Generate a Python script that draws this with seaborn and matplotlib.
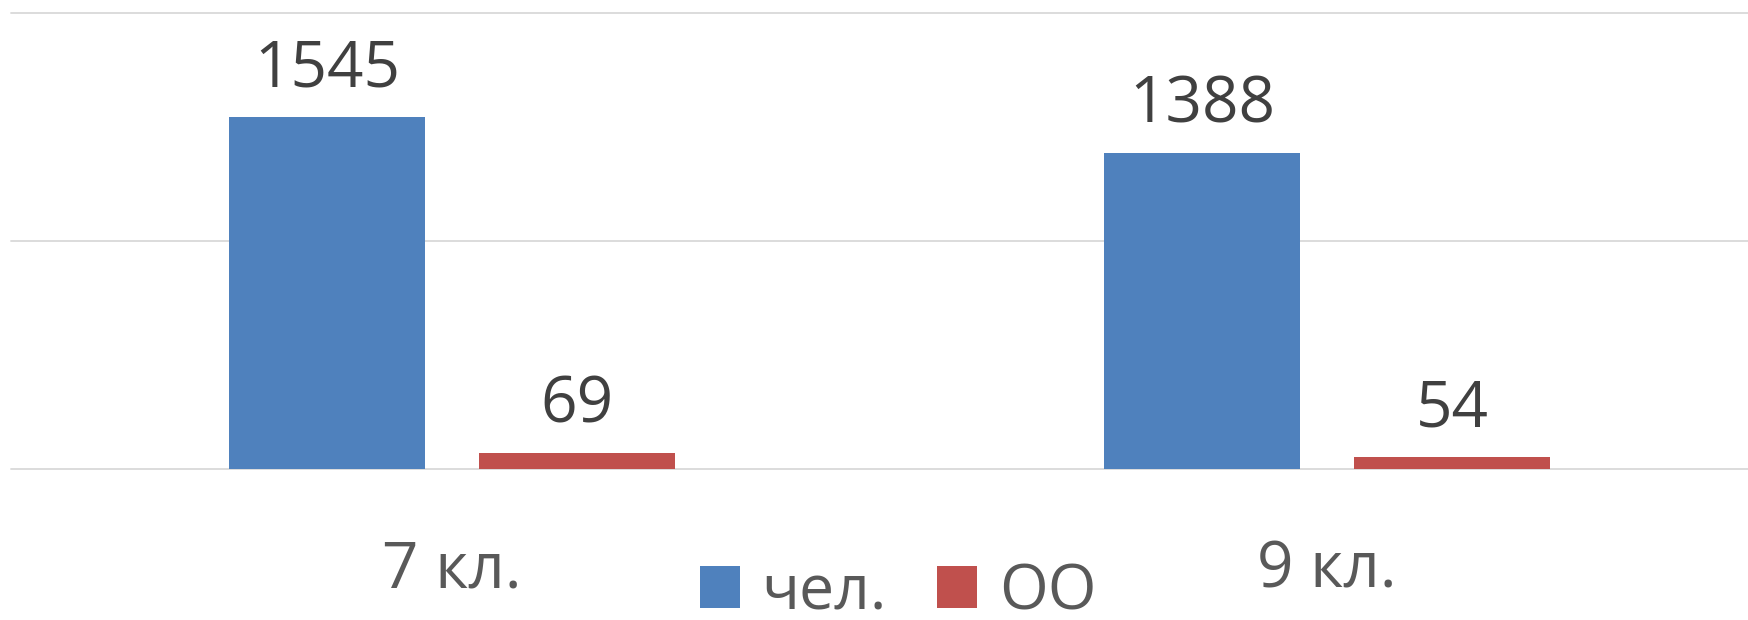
import pandas as pd
import matplotlib
matplotlib.use("Agg")
import matplotlib.pyplot as plt
import seaborn as sns

# data
classes = ["7 кл.", "9 кл."]
series = ["чел.", "ОО"]
people = [1545, 1388]
schools = [69, 54]
colors = ["#4F81BD", "#C0504D"]

sns.set_theme(style="white")
plt.rcParams["font.family"] = ["Open Sans", "DejaVu Sans"]

df = pd.DataFrame({
    "class": classes * 2,
    "series": [series[0]] * len(classes) + [series[1]] * len(classes),
    "value": people + schools,
})

W, H = 1749, 620
fig = plt.figure(figsize=(W / 100, H / 100), dpi=100)
ax = fig.add_axes([11 / W, 1 - 469 / H, 1 - 11 / W, (469 - 13) / H])

sns.barplot(data=df, x="class", y="value", hue="series", hue_order=series,
            order=classes, palette=colors, width=0.572, gap=0.217,
            linewidth=0, saturation=1, ax=ax, legend=True)

ax.set_ylim(0, 2000)
ax.set_xlim(-0.504, 1.482)
ax.set_yticks([0, 1000, 2000])
ax.yaxis.grid(True, color="#d9d9d9", linewidth=1.3)
for gl in ax.get_ygridlines():
    gl.set_clip_on(False)
ax.set_axisbelow(True)
sns.despine(ax=ax, left=True, bottom=True, top=True, right=True)
ax.tick_params(left=False, labelleft=False, bottom=False, labelsize=46,
               labelcolor="#595959", pad=44)
ax.set_xlabel("")
ax.set_ylabel("")

for cont in ax.containers:
    ax.bar_label(cont, fmt="%d", padding=11, fontsize=46, color="#404040")

handles, labels = ax.get_legend_handles_labels()
ax.get_legend().remove()
fig.legend(handles, labels, loc="center", bbox_to_anchor=(898 / W, 1 - 593 / H),
           ncol=2, frameon=False, fontsize=45, labelcolor="#595959",
           handlelength=0.64, handleheight=0.66, handletextpad=0.35,
           columnspacing=0.8, borderpad=0)

fig.savefig("out.png", dpi=100)
